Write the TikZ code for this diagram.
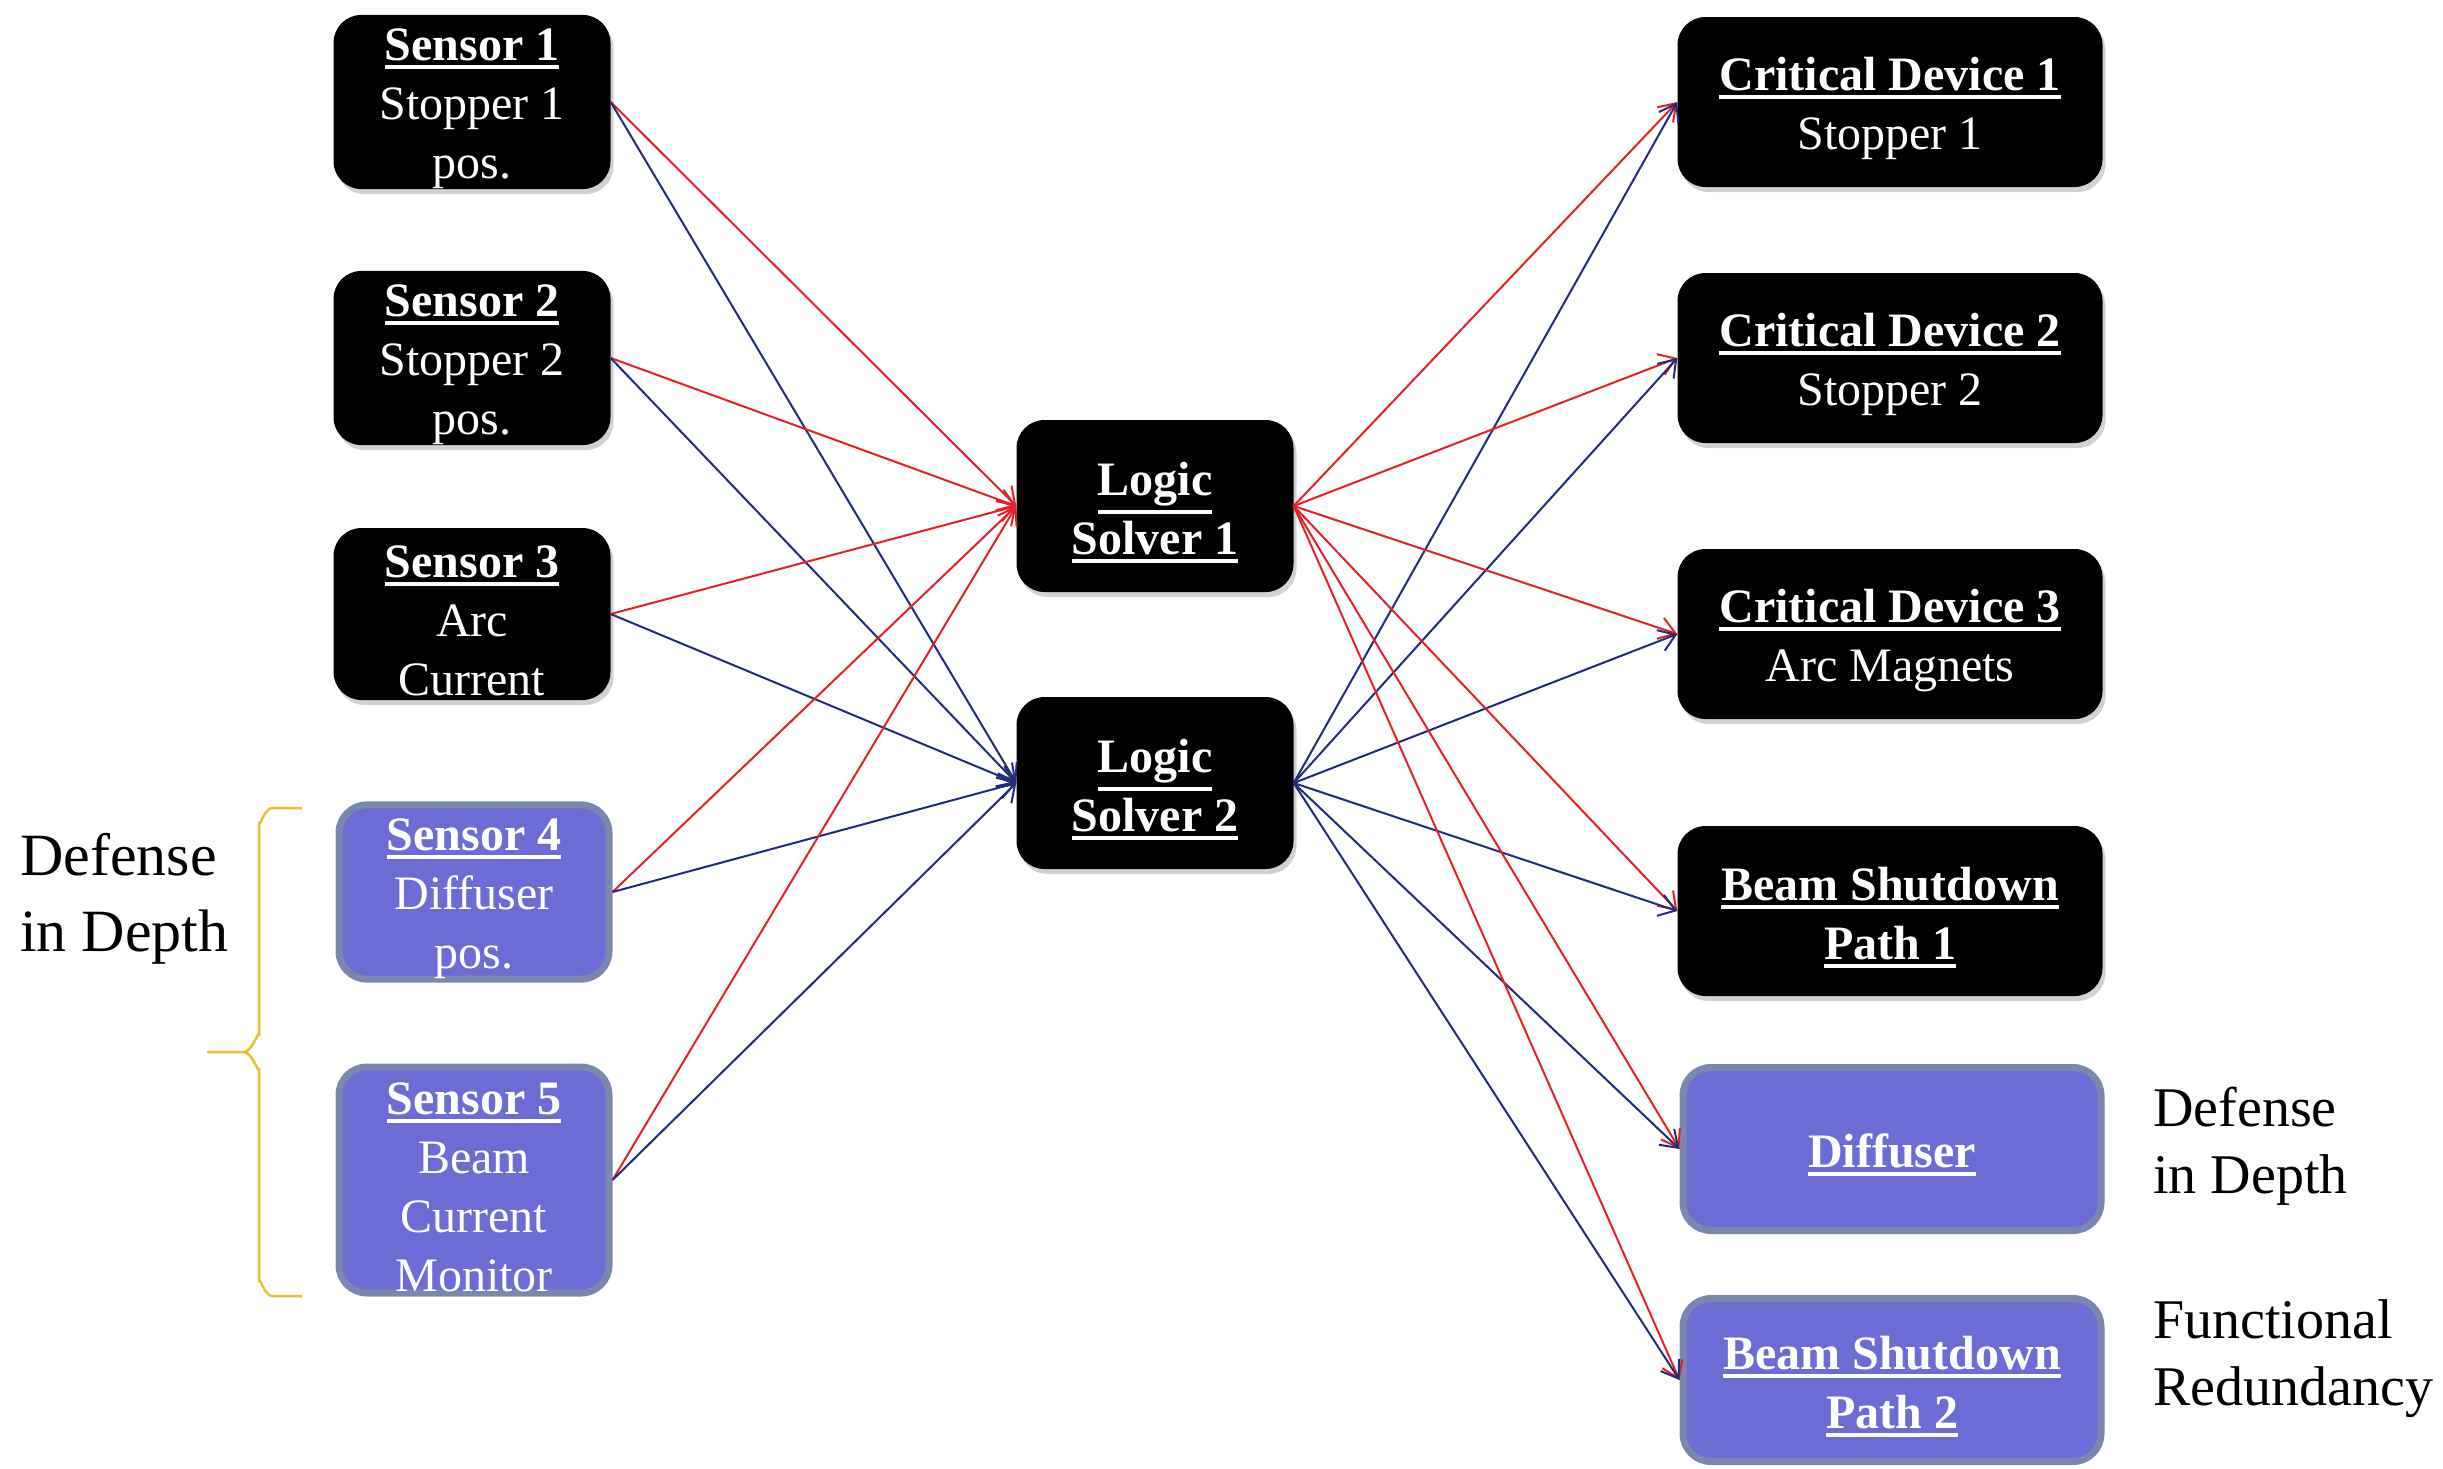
\documentclass[tikz,border=0pt]{standalone}
\usepackage{fontspec}
\setmainfont{Liberation Serif}
\usetikzlibrary{arrows.meta,shadows}
\definecolor{purp}{RGB}{108,108,212}
\definecolor{purpedge}{RGB}{122,136,176}
\definecolor{redln}{RGB}{228,32,40}
\definecolor{blueln}{RGB}{32,46,122}
\definecolor{brace}{RGB}{232,192,48}
\newcommand\myul[1]{\vtop{\hbox{#1}\kern4pt\hrule height 4pt}}
\newcommand\myulf[1]{\vtop{\hbox{\rule{0pt}{46pt}#1}\kern4pt\hrule height 4pt}}
\newcommand\boxfont{\fontsize{48}{59}\selectfont}
\tikzset{
  box/.style={rectangle, rounded corners=28pt, text=white, align=center, font=\boxfont, inner sep=0pt},
  blk/.style={box, fill=black, drop shadow={shadow xshift=3pt, shadow yshift=-5pt, opacity=0.35}},
  prp/.style={box, fill=purp, draw=purpedge, line width=7pt},
  sens/.style={minimum width=277pt, minimum height=172pt},
  dev/.style={minimum width=425pt, minimum height=170pt},
  rln/.style={draw=redln, line width=2pt, -{Straight Barb[length=16pt,width=22pt]}},
  bln/.style={draw=blueln, line width=2pt, -{Straight Barb[length=16pt,width=22pt]}},
  lbl/.style={align=left, anchor=west, inner sep=0pt}
}
\begin{document}
\begin{tikzpicture}[x=1pt,y=-1pt]
\useasboundingbox (0,0) rectangle (2443,1468);
\fill[white] (0,0) rectangle (2443,1468);
% sensors
\node[blk,sens] (s1) at (472,102) {\myulf{\bfseries Sensor 1}\\Stopper 1\\pos.};
\node[blk,sens] (s2) at (472,358) {\myulf{\bfseries Sensor 2}\\Stopper 2\\pos.};
\node[blk,sens] (s3) at (472,614) {\myulf{\bfseries Sensor 3}\\Arc\\Current};
\node[prp,sens,minimum width=270pt,minimum height=166pt] (s4) at (474,892) {\myulf{\bfseries Sensor 4}\\Diffuser\\pos.};
\node[prp,sens,minimum width=270pt,minimum height=226pt] (s5) at (474,1180) {\myulf{\bfseries Sensor 5}\\Beam\\Current\\Monitor};
% logic solvers
\node[blk,sens] (ls1) at (1155,506) {\myulf{\bfseries Logic}\\\myul{\bfseries Solver 1}};
\node[blk,sens] (ls2) at (1155,783) {\myulf{\bfseries Logic}\\\myul{\bfseries Solver 2}};
% devices
\node[blk,dev] (cd1) at (1890,102) {\myulf{\bfseries Critical Device 1}\\Stopper 1};
\node[blk,dev] (cd2) at (1890,358) {\myulf{\bfseries Critical Device 2}\\Stopper 2};
\node[blk,dev] (cd3) at (1890,634) {\myulf{\bfseries Critical Device 3}\\Arc Magnets};
\node[blk,dev] (bs1) at (1890,911) {\myulf{\bfseries Beam Shutdown}\\\myul{\bfseries Path 1}};
\node[prp,dev,minimum width=418pt,minimum height=163pt] (dif) at (1892,1149) {\myulf{\bfseries Diffuser}};
\node[prp,dev,minimum width=418pt,minimum height=163pt] (bs2) at (1892,1380) {\myulf{\bfseries Beam Shutdown}\\\myul{\bfseries Path 2}};
% connectors
\foreach \s in {s1,s2,s3,s4,s5} {
  \draw[rln] (\s.east) -- (ls1.west);
  \draw[bln] (\s.east) -- (ls2.west);
}
\foreach \d in {cd1,cd2,cd3,bs1,dif,bs2} {
  \draw[rln] (ls1.east) -- (\d.west);
  \draw[bln] (ls2.east) -- (\d.west);
}
% labels
\node[lbl, font=\fontsize{60}{76}\selectfont] (dl) at (20,899) {Defense\\in Depth};
\node[lbl, font=\fontsize{56}{67}\selectfont] (dr) at (2153,1146) {Defense\\in Depth};
\node[lbl, font=\fontsize{56}{67}\selectfont] (fr) at (2153,1359) {Functional\\Redundancy};
% brace
\draw[brace, line width=2.5pt] (302,808) -- (272,808) to[out=180,in=-90] (259,822) -- (259,1036)
  to[out=90,in=0] (244,1052) -- (207,1052);
\draw[brace, line width=2.5pt] (244,1052) to[out=0,in=-90] (259,1068) -- (259,1282)
  to[out=90,in=180] (272,1296) -- (302,1296);
\end{tikzpicture}
\end{document}
